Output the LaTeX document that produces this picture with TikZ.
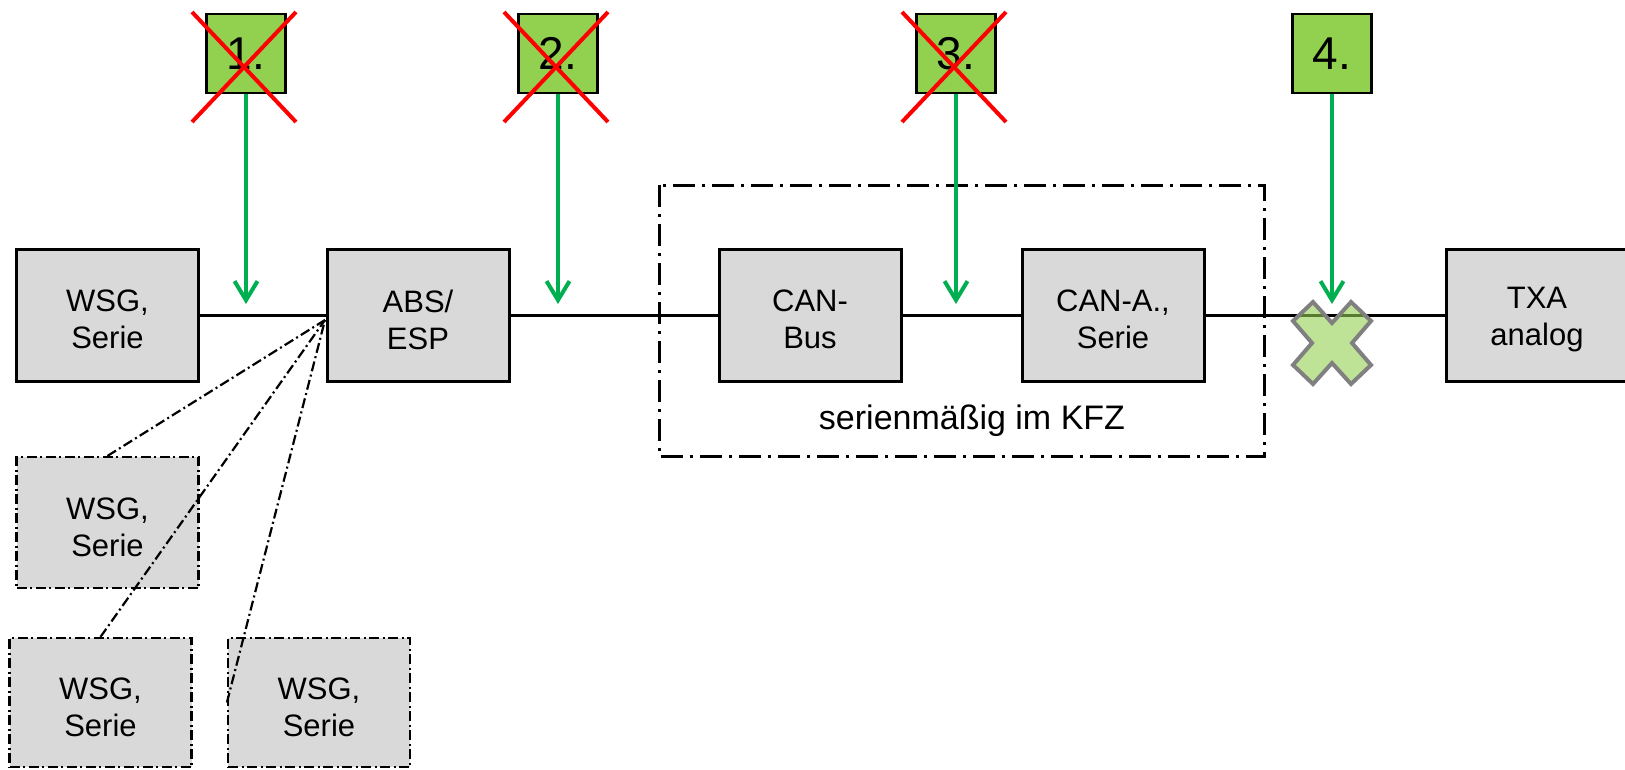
\documentclass[tikz,border=0pt]{standalone}
\usepackage{fontspec}
\setmainfont{Liberation Sans}
\usetikzlibrary{arrows.meta}
\definecolor{boxgray}{HTML}{D9D9D9}
\definecolor{numgreen}{HTML}{92D050}
\definecolor{arrgreen}{HTML}{00B050}
\definecolor{xgray}{HTML}{808080}
\definecolor{xred}{HTML}{FF0000}
\begin{document}
\begin{tikzpicture}[x=1pt,y=-1pt,
  boxtext/.style={inner sep=0pt, align=center, yshift=-4.5pt,
    font=\fontsize{31}{37}\selectfont},
  unit/.style={draw=black, line width=3pt, fill=boxgray, minimum width=182pt,
    minimum height=132pt, inner sep=0pt, label={[boxtext]center:{#1}}},
  optunit/.style={unit={#1}, line width=2.2pt,
    dash pattern=on 10pt off 3.5pt on 2pt off 3.5pt},
  numbox/.style={draw=black, line width=2.5pt, fill=numgreen, minimum width=79pt,
    minimum height=79pt, inner sep=0pt, font=\fontsize{46}{46}\selectfont},
  wire/.style={draw=black, line width=3pt},
  optline/.style={draw=black, line width=2.2pt,
    dash pattern=on 10pt off 3.5pt on 2pt off 3.5pt},
  groupbox/.style={draw=black, line width=3pt,
    dash pattern=on 22pt off 7pt on 3pt off 7pt},
  garrow/.style={draw=arrgreen, line width=4pt,
    -{Straight Barb[length=19pt,width=23pt]}},
  redx/.style={draw=xred, line width=4pt},
  crossmark/.style={draw=xgray, line width=4pt, fill=numgreen, fill opacity=0.6,
    line join=miter},
  lbl/.style={font=\fontsize{34}{40}\selectfont, inner sep=0pt}
]
\useasboundingbox (0,0) rectangle (1625,769);

% group frame
\draw[groupbox] (659,185) rectangle (1264,456);
\node[lbl] (grouplbl) at (972,421) {serienmäßig im KFZ};

% main chain
\node[unit={WSG,\\Serie}] (wsg) at (107.5,315) {};
\node[unit={ABS/\\ESP}] (abs) at (418,315) {};
\node[unit={CAN-\\Bus}] (canbus) at (810,315) {};
\node[unit={CAN-A.,\\Serie}] (cana) at (1113,315) {};
\node[unit={TXA\\analog}] (txa) at (1537,315) {};

\draw[wire] (wsg.east) -- (abs.west);
\draw[wire] (abs.east) -- (canbus.west);
\draw[wire] (canbus.east) -- (cana.west);
\draw[wire] (cana.east) -- (txa.west);

% optional sensors
\node[optunit={WSG,\\Serie}, minimum height=131pt] (wsga) at (107.5,522.5) {};
\node[optunit={WSG,\\Serie}, minimum height=129pt] (wsgb) at (100.5,702.5) {};
\node[optunit={WSG,\\Serie}, minimum height=129pt] (wsgc) at (319,702.5) {};

\coordinate (conv) at (325,320);
\draw[optline] (wsga.north) -- (conv);
\draw[optline] (wsgb.north) -- (conv);
\draw[optline] (wsgc.west) -- (conv);

% numbered test points
\node[numbox] (n1) at (246,53.5) {1.};
\node[numbox] (n2) at (558,53.5) {2.};
\node[numbox] (n3) at (956,53.5) {3.};
\node[numbox] (n4) at (1332,53.5) {4.};

\coordinate (t1) at (246,304);
\coordinate (t2) at (558,304);
\coordinate (t3) at (956,304);
\coordinate (t4) at (1332,304);

\draw[garrow] (n1.south) -- (t1);
\draw[garrow] (n2.south) -- (t2);
\draw[garrow] (n3.south) -- (t3);
\draw[garrow] (n4.south) -- (t4);

% red crossings
\foreach \n in {n1,n2,n3}{
  \draw[redx] ([shift={(-54,-41.5)}]\n.center) -- ([shift={(50,68.5)}]\n.center);
  \draw[redx] ([shift={(50,-41.5)}]\n.center) -- ([shift={(-54,68.5)}]\n.center);
}

% break mark
\begin{scope}[shift={(1332,343)}]
\draw[crossmark] (0,-20) -- (19,-41) -- (39,-22) -- (20,0) -- (39,22) -- (19,41)
  -- (0,20) -- (-19,41) -- (-39,22) -- (-20,0) -- (-39,-22) -- (-19,-41) -- cycle;
\end{scope}
\end{tikzpicture}
\end{document}
